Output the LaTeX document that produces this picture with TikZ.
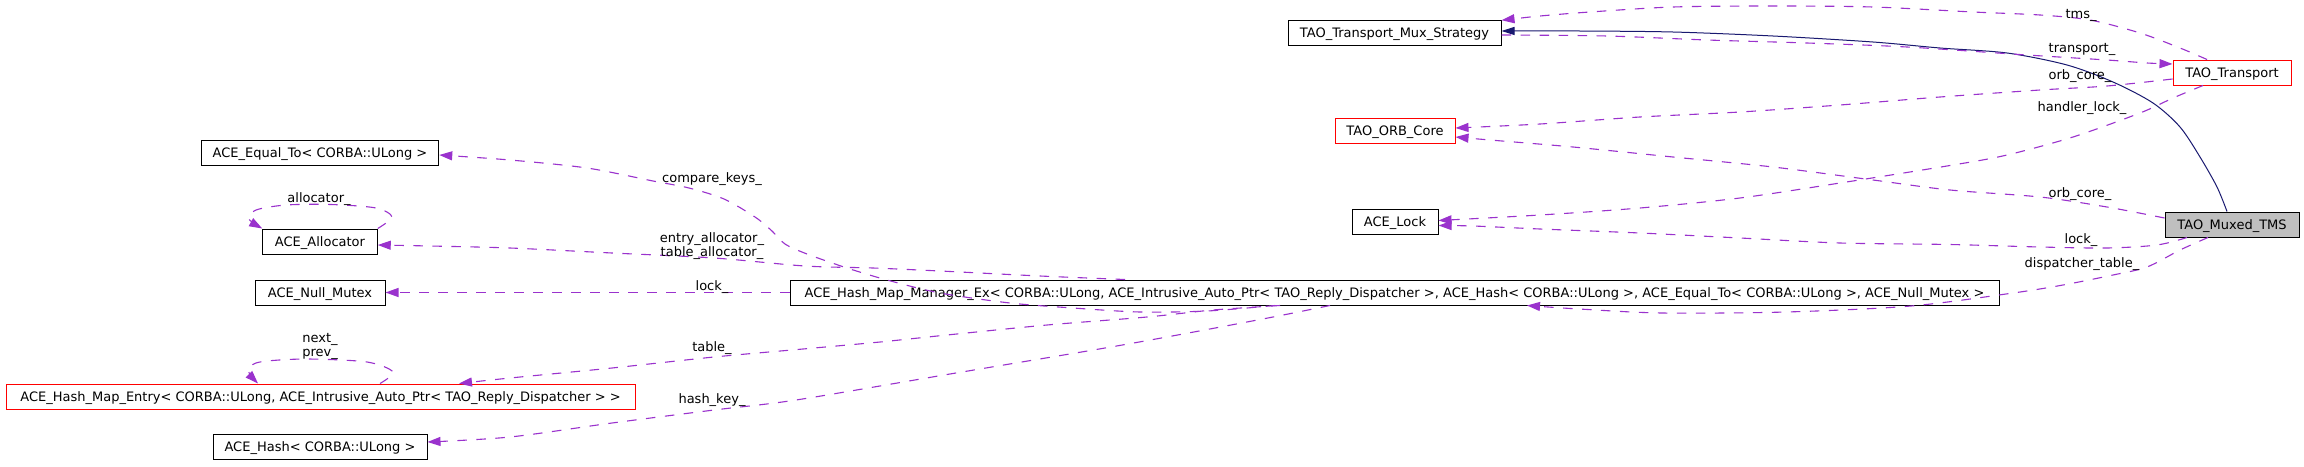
\documentclass[tikz,border=0pt]{standalone}
\usepackage{fontspec}
\setmainfont{DejaVu Sans}
\usetikzlibrary{arrows.meta}
\definecolor{edgepurple}{HTML}{9A32CD}
\definecolor{inhblue}{HTML}{191970}
\definecolor{tmsgray}{HTML}{BFBFBF}
\begin{document}
\begin{tikzpicture}[x=1pt,y=-1pt,
  every node/.style={font=\fontsize{13}{15}\selectfont},
  cls/.style={draw=black, line width=1pt, fill=white, inner sep=0pt, minimum height=25pt, text height=11pt, text depth=1.4pt},
  redcls/.style={cls, draw=red},
  member/.style={draw=edgepurple, line width=1.1pt, dash pattern=on 9.5pt off 9.5pt, -{Triangle[length=13pt,width=9pt]}},
  inherit/.style={draw=inhblue, line width=1pt, -{Triangle[length=13pt,width=8pt]}},
  lbl/.style={anchor=base, inner sep=0pt}
]
\useasboundingbox[fill=white] (0,0) rectangle (2304,466);

% nodes
\node[cls, minimum width=213pt, minimum height=24.5pt] (strat) at (1394.5,33) {TAO\_Transport\_Mux\_Strategy};
\node[redcls, minimum width=118pt] (transp) at (2232,72.5) {TAO\_Transport};
\node[redcls, minimum width=120pt] (orb) at (1395,131) {TAO\_ORB\_Core};
\node[cls, minimum width=86pt] (lockn) at (1395,221.5) {ACE\_Lock};
\node[cls, fill=tmsgray, minimum width=134pt] (tms) at (2232,224.5) {TAO\_Muxed\_TMS};
\node[cls, minimum width=237.5pt] (eq) at (320,153) {ACE\_Equal\_To< CORBA::ULong >};
\node[cls, minimum width=114.5pt] (alloc) at (320,241.5) {ACE\_Allocator};
\node[cls, minimum width=130pt] (nullm) at (320,292.5) {ACE\_Null\_Mutex};
\node[redcls, minimum width=629pt] (entry) at (320.5,396.5) {ACE\_Hash\_Map\_Entry< CORBA::ULong, ACE\_Intrusive\_Auto\_Ptr< TAO\_Reply\_Dispatcher > >};
\node[cls, minimum width=214pt] (hash) at (320,447) {ACE\_Hash< CORBA::ULong >};
\node[cls, minimum width=1209pt] (mgr) at (1394.5,292.5) {ACE\_Hash\_Map\_Manager\_Ex< CORBA::ULong, ACE\_Intrusive\_Auto\_Ptr< TAO\_Reply\_Dispatcher >, ACE\_Hash< CORBA::ULong >, ACE\_Equal\_To< CORBA::ULong >, ACE\_Null\_Mutex >};

% inheritance
\draw[inherit] plot[smooth] coordinates {([xshift=-5pt]tms.north) (2217,187) (2200,157) (2180,127) (2153,103) (2113,82) (2067,65) (2007,53) (1940,48) (1873,42) (1773,36) (1673,32) (1580,31) ([yshift=2pt]strat.east)};

% member edges, right part
\draw[member] plot[smooth] coordinates {([xshift=-25pt]transp.north) (2180,48) (2140,33) (2090,20) (2040,15) (1973,12) (1873,7) (1773,6) (1673,7) (1590,12) (1540,16) (strat.north east)};
\draw[member] plot[smooth] coordinates {([yshift=-2pt]strat.east) (1607,36) (1707,40) (1807,43) (1907,47) (2027,55) (2107,60) (2147,63) ([yshift=8.5pt]transp.west)};
\draw[member] plot[smooth] coordinates {([yshift=-6.5pt]transp.west) (2107,86) (2040,90) (1940,97) (1840,105) (1740,112) (1640,117) (1540,124) ([yshift=3pt]orb.east)};
\draw[member] plot[smooth] coordinates {([xshift=-29pt]transp.south) (2173,98) (2140,113) (2073,137) (2007,155) (1953,165) (1840,183) (1740,198) (1640,208) (1540,215) ([yshift=1pt]lockn.east)};
\draw[member] plot[smooth] coordinates {([yshift=6.5pt]tms.west) (2107,207) (2040,197) (1950,190) (1873,180) (1773,167) (1673,157) (1573,147) (1490,140) ([yshift=-6pt]orb.east)};
\draw[member] plot[smooth] coordinates {([xshift=-45pt]tms.south) (2157,245) (2107,248) (2040,247) (1950,244.5) (1840,243) (1740,238) (1640,233) (1540,229) (1473,226) ([yshift=-4pt]lockn.east)};
\draw[member] plot[smooth] coordinates {([xshift=-24pt]tms.south) (2180,250) (2147,267) (2113,275) (2063,285) (2013,293) (1911,306) (1786,312) (1662,313) (1579,309) ([xshift=132.5pt]mgr.south)};

% member edges, left part
\draw[member] plot[smooth] coordinates {([xshift=-119.5pt]mgr.south) (1207,311) (1140,312) (1073,308) (1010,303) (940,293) (887,280) (847,268) (807,254) (785,244) (772,231) (755,217) (724,199) (689,188) (653,181) (587,168) (510,160) ([yshift=-2pt]eq.east)};
\draw[member] plot[smooth] coordinates {([xshift=-269.5pt]mgr.north) (1040,276) (940,271) (873,268) (805,266) (714,258) (612,253) (510,248) (430,246) ([yshift=-3.5pt]alloc.east)};
\draw[member] (mgr.west) -- (nullm.east);
\draw[member] plot[smooth] coordinates {([xshift=-114.5pt]mgr.south) (1213,310) (1147,317) (1047,325) (947,335) (880,342) (803,349) (714,357) (612,368) (510,378) ([xshift=138.5pt]entry.north)};
\draw[member] plot[smooth] coordinates {([xshift=-64.5pt]mgr.south) (1273,317) (1183,334) (1105,348) (950,374) (796,400) (714,410) (612,423) (510,437) ([yshift=5pt]hash.east)};
\draw[member] plot[smooth] coordinates {(alloc.north east) (392,217) (376,208) (331,204.5) (286,205) (256,210) (249,219) (alloc.north west)};
\draw[member] plot[smooth] coordinates {([xshift=59.5pt]entry.north) (393,372) (367,362) (306,359) (260,362) (248,370) ([xshift=-62.5pt]entry.north)};

% labels
\node[lbl] (l1) at (2081,18.5) {tms\_};
\node[lbl] (l2) at (2082,52.5) {transport\_};
\node[lbl] (l3) at (2080,79.5) {orb\_core\_};
\node[lbl] (l4) at (2082,111.5) {handler\_lock\_};
\node[lbl] (l5) at (2080,197.5) {orb\_core\_};
\node[lbl] (l6) at (2081,243.5) {lock\_};
\node[lbl] (l7) at (2082,267.5) {dispatcher\_table\_};
\node[lbl] (l8) at (712,182.5) {compare\_keys\_};
\node[lbl] (l9) at (319,202.5) {allocator\_};
\node[lbl] (l10) at (712,242.5) {entry\_allocator\_};
\node[lbl] (l11) at (712,256.5) {table\_allocator\_};
\node[lbl] (l12) at (712,290.5) {lock\_};
\node[lbl] (l13) at (320,342.5) {next\_};
\node[lbl] (l14) at (320,356.5) {prev\_};
\node[lbl] (l15) at (712,351.5) {table\_};
\node[lbl] (l16) at (712,403.5) {hash\_key\_};
\end{tikzpicture}
\end{document}
